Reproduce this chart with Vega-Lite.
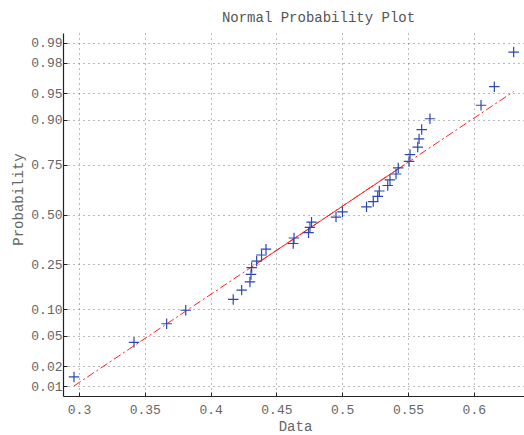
{
  "$schema": "https://vega.github.io/schema/vega-lite/v6.json",
  "width": 461,
  "height": 363,
  "autosize": {"type": "none"},
  "padding": {"left": 63, "top": 33, "right": 0, "bottom": 39},
  "background": "white",
  "title": {
    "text": "Normal Probability Plot",
    "anchor": "middle",
    "frame": "group",
    "dx": 25,
    "dy": 14,
    "offset": 15,
    "baseline": "middle",
    "font": "Liberation Mono",
    "fontSize": 14,
    "fontWeight": "normal",
    "color": "#555555"
  },
  "datasets": {
    "pts": [
      {"Data": 0.2962, "z": -2.2004},
      {"Data": 0.3418, "z": -1.7317},
      {"Data": 0.3666, "z": -1.4799},
      {"Data": 0.3811, "z": -1.2975},
      {"Data": 0.4172, "z": -1.1503},
      {"Data": 0.4236, "z": -1.0246},
      {"Data": 0.4299, "z": -0.9136},
      {"Data": 0.4307, "z": -0.8122},
      {"Data": 0.4312, "z": -0.7189},
      {"Data": 0.4350, "z": -0.6312},
      {"Data": 0.4387, "z": -0.5485},
      {"Data": 0.4421, "z": -0.4693},
      {"Data": 0.4628, "z": -0.3928},
      {"Data": 0.4634, "z": -0.3186},
      {"Data": 0.4744, "z": -0.2462},
      {"Data": 0.4755, "z": -0.1750},
      {"Data": 0.4767, "z": -0.1046},
      {"Data": 0.4953, "z": -0.0348},
      {"Data": 0.5002, "z": 0.0348},
      {"Data": 0.5185, "z": 0.1046},
      {"Data": 0.5236, "z": 0.1750},
      {"Data": 0.5270, "z": 0.2462},
      {"Data": 0.5282, "z": 0.3186},
      {"Data": 0.5346, "z": 0.3928},
      {"Data": 0.5363, "z": 0.4693},
      {"Data": 0.5409, "z": 0.5485},
      {"Data": 0.5426, "z": 0.6312},
      {"Data": 0.5508, "z": 0.7189},
      {"Data": 0.5515, "z": 0.8122},
      {"Data": 0.5574, "z": 0.9136},
      {"Data": 0.5584, "z": 1.0246},
      {"Data": 0.5604, "z": 1.1503},
      {"Data": 0.5667, "z": 1.2975},
      {"Data": 0.6055, "z": 1.4799},
      {"Data": 0.6156, "z": 1.7317},
      {"Data": 0.6303, "z": 2.2004}
    ],
    "fitfull": [
      {"Data": 0.2962, "z": -2.323},
      {"Data": 0.6303, "z": 1.666}
    ],
    "fitmid": [
      {"Data": 0.4343, "z": -0.6745},
      {"Data": 0.5473, "z": 0.6745}
    ]
  },
  "encoding": {
    "x": {
      "field": "Data",
      "type": "quantitative",
      "scale": {"domain": [0.28784, 0.63815], "nice": false, "zero": false},
      "axis": {
        "title": "Data",
        "values": [0.3, 0.35, 0.4, 0.45, 0.5, 0.55, 0.6],
        "format": "~g",
        "labelFlush": false,
        "labelOverlap": false,
        "tickSize": -4,
        "labelPadding": 11,
        "titleX": 232,
        "titleY": 30,
        "titleBaseline": "middle",
        "titleAlign": "center"
      }
    },
    "y": {
      "field": "z",
      "type": "quantitative",
      "scale": {"domain": [-2.459, 2.459], "nice": false, "zero": false},
      "axis": {
        "title": "Probability",
        "values": [-2.3263, -2.0537, -1.6449, -1.2816, -0.6745, 0, 0.6745, 1.2816, 1.6449, 2.0537, 2.3263],
        "labelExpr": "datum.value < -2.2 ? '0.01' : datum.value < -1.9 ? '0.02' : datum.value < -1.5 ? '0.05' : datum.value < -1 ? '0.10' : datum.value < -0.3 ? '0.25' : datum.value < 0.3 ? '0.50' : datum.value < 1 ? '0.75' : datum.value < 1.5 ? '0.90' : datum.value < 1.9 ? '0.95' : datum.value < 2.2 ? '0.98' : '0.99'",
        "labelOverlap": false,
        "labelFlush": false,
        "tickSize": -4,
        "labelPadding": 5,
        "titleX": -45,
        "titleY": 166,
        "titleAngle": 270,
        "titleBaseline": "middle",
        "titleAlign": "center"
      }
    }
  },
  "layer": [
    {
      "data": {"name": "fitfull"},
      "mark": {"type": "line", "color": "#ff2020", "strokeWidth": 1, "strokeDash": [8, 3, 2, 3], "clip": true}
    },
    {
      "data": {"name": "fitmid"},
      "mark": {"type": "line", "color": "#ff2020", "strokeWidth": 1, "clip": true}
    },
    {
      "data": {"name": "pts"},
      "mark": {"type": "point", "shape": "M-1,0H1M0,-1V1", "size": 110, "filled": false, "stroke": "#2a48b0", "strokeWidth": 1.2, "opacity": 1, "clip": true}
    }
  ],
  "config": {
    "view": {"stroke": null},
    "axis": {
      "grid": true,
      "gridDash": [1, 4],
      "gridColor": "#777777",
      "gridOpacity": 1,
      "gridWidth": 1,
      "domainColor": "#222222",
      "domainWidth": 1.2,
      "tickColor": "#222222",
      "labelFont": "Liberation Mono",
      "labelFontSize": 13,
      "labelColor": "#666666",
      "titleFont": "Liberation Mono",
      "titleFontSize": 14,
      "titleFontWeight": "normal",
      "titleColor": "#666666"
    }
  }
}
